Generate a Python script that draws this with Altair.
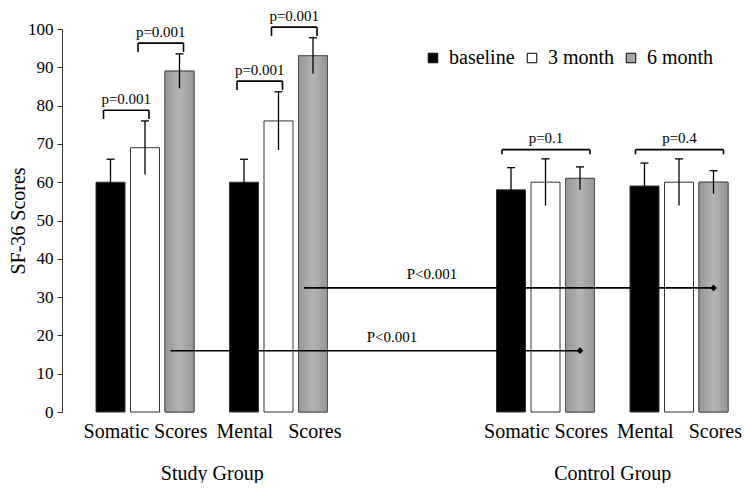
import altair as alt
import pandas as pd

# ---------------- data ----------------
groups = ["Study Group", "Control Group"]
measures = ["Somatic Scores", "Mental Scores"]
times = ["baseline", "3 month", "6 month"]

study_somatic = [60, 69, 89]
study_somatic_err = [6, 7, 4.5]
study_mental = [60, 76, 93]
study_mental_err = [6, 7.6, 4.7]
control_somatic = [58, 60, 61]
control_somatic_err = [5.8, 6.1, 3]
control_mental = [59, 60, 60]
control_mental_err = [6, 6.1, 3]

# within-group comparisons: (group, measure, from time, to time, label)
within_tests = [
    ("Study Group", "Somatic Scores", 0, 1, "p=0.001"),
    ("Study Group", "Somatic Scores", 1, 2, "p=0.001"),
    ("Study Group", "Mental Scores", 0, 1, "p=0.001"),
    ("Study Group", "Mental Scores", 1, 2, "p=0.001"),
    ("Control Group", "Somatic Scores", 0, 2, "p=0.1"),
    ("Control Group", "Mental Scores", 0, 2, "p=0.4"),
]
# between-group comparisons at 6 months: (measure, line level, label)
between_tests = [
    ("Somatic Scores", 16, "P<0.001"),
    ("Mental Scores", 32.4, "P<0.001"),
]

series = [
    ("Study Group", "Somatic Scores", study_somatic, study_somatic_err),
    ("Study Group", "Mental Scores", study_mental, study_mental_err),
    ("Control Group", "Somatic Scores", control_somatic, control_somatic_err),
    ("Control Group", "Mental Scores", control_mental, control_mental_err),
]

FONT = "Liberation Serif"

# ---------------- layout helpers ----------------
W, H = 680, 383
PX = 133.5                      # pixels per slot
slot_of = {("Study Group", "Somatic Scores"): 0, ("Study Group", "Mental Scores"): 1,
           ("Control Group", "Somatic Scores"): 3, ("Control Group", "Mental Scores"): 4}
BAR_STEP = 34.5 / PX
X_LO = -83 / PX
X_HI = X_LO + W / PX


def px(p):
    return p / PX


def pos(g, m, t):
    return slot_of[(g, m)] + (t - 1) * BAR_STEP


bar_rows, seg_rows, text_rows, dia_rows = [], [], [], []
for g, m, vals, errs in series:
    for t, (v, e) in enumerate(zip(vals, errs)):
        x = pos(g, m, t)
        bar_rows.append({"x": x, "y": v, "time": times[t]})
        seg_rows.append({"x": x, "x2": x, "y": v - e, "y2": v + e, "w": 1.3})
        seg_rows.append({"x": x - px(4), "x2": x + px(4), "y": v + e, "y2": v + e, "w": 1.3})

lookup = {(g, m): (vals, errs) for g, m, vals, errs in series}
for g, m, ta, tb, lab in within_tests:
    vals, errs = lookup[(g, m)]
    top = max(vals[k] + errs[k] for k in range(ta, tb + 1))
    adjacent = (tb - ta) == 1
    ytop = top + (2.8 if adjacent else 2.4)
    leg = 2.3 if adjacent else 1.2
    xl = pos(g, m, ta) - px(7 if adjacent else 9)
    xr = pos(g, m, tb) + px(4 if adjacent else 10)
    seg_rows.append({"x": xl, "x2": xr, "y": ytop, "y2": ytop, "w": 1.6})
    seg_rows.append({"x": xl, "x2": xl, "y": ytop - leg, "y2": ytop, "w": 1.6})
    seg_rows.append({"x": xr, "x2": xr, "y": ytop - leg, "y2": ytop, "w": 1.6})
    text_rows.append({"x": (xl + xr) / 2, "y": ytop + 3.0, "label": lab})

for i, (m, level, lab) in enumerate(between_tests):
    xs = pos("Study Group", m, 2) - px(9)
    xe = pos("Control Group", m, 2)
    seg_rows.append({"x": xs, "x2": xe, "y": level, "y2": level, "w": 1.6})
    dia_rows.append({"x": xe, "y": level})
    text_rows.append({"x": 2 + (-1 if i == 0 else 1) * px(20), "y": level + 3.6, "label": lab})

bars_df = pd.DataFrame(bar_rows)
seg_df = pd.DataFrame(seg_rows)
text_df = pd.DataFrame(text_rows)
dia_df = pd.DataFrame(dia_rows)
grp_df = pd.DataFrame({"x": [0.5, 3.5], "g": groups})


def xscale():
    return alt.Scale(domain=[X_LO, X_HI], nice=False, zero=False, padding=0)


yscale = alt.Scale(domain=[0, 100], nice=False, padding=0)
YT = "SF-36 Scores"

mental_label = measures[1].replace(" ", "\u00a0\u00a0 ")
measure_expr = f"datum.value % 3 == 0 ? '{measures[0]}' : '{mental_label}'"
x_axis = alt.Axis(values=[0, 1, 3, 4], labelExpr=measure_expr, domain=False, ticks=False,
                  labelPadding=9, labelFontSize=20, labelColor="black", title=None,
                  grid=False, labelFlush=False, labelOverlap=False, labelFont=FONT)
y_axis = alt.Axis(values=list(range(0, 101, 10)), tickCount=11, grid=False, title=YT,
                  titleFontSize=20, titleFontWeight="normal", titleColor="black",
                  labelFontSize=17, labelColor="black", tickSize=5, tickColor="#333",
                  domainColor="#333", titleX=-44, titleBaseline="middle", labelPadding=4,
                  labelOverlap=False, labelFont=FONT, titleFont=FONT)


def X():
    return alt.X("x:Q", scale=xscale(), axis=x_axis)


def Y():
    return alt.Y("y:Q", scale=yscale, axis=y_axis)


bars = alt.Chart(bars_df).mark_bar(size=29, stroke="#333", strokeWidth=1).encode(
    x=X(), y=Y(),
    color=alt.Color("time:N", scale=alt.Scale(domain=times, range=["#000000", "#ffffff", "#a8a8a8"]),
                    legend=alt.Legend(orient="none", legendX=361, legendY=19, direction="horizontal",
                                      columns=3, title=None, symbolType="square", symbolSize=90,
                                      symbolStrokeColor="#000", symbolStrokeWidth=1,
                                      labelFontSize=20, labelOffset=6, columnPadding=6,
                                      gridAlign="all", labelColor="black", labelFont=FONT)),
)

grad_bars = alt.Chart(bars_df[bars_df["time"] == times[2]]).mark_bar(
    size=29, stroke="#555", strokeWidth=1,
    color=alt.Gradient(gradient="linear", x1=0, x2=1, y1=0, y2=0,
                       stops=[alt.GradientStop(color="#969696", offset=0),
                              alt.GradientStop(color="#b4b4b4", offset=0.5),
                              alt.GradientStop(color="#969696", offset=1)])
).encode(x=X(), y=Y())

segs = alt.Chart(seg_df).mark_rule(color="black").encode(
    x=X(), x2="x2", y=Y(), y2="y2",
    strokeWidth=alt.StrokeWidth("w:Q", scale=None),
)

texts = alt.Chart(text_df).mark_text(fontSize=15, color="black", baseline="middle",
                                     font=FONT).encode(x=X(), y=Y(), text="label:N")

diamonds = alt.Chart(dia_df).mark_point(shape="diamond", filled=True, size=45, color="black",
                                        opacity=1).encode(x=X(), y=Y())

main = alt.layer(bars, grad_bars, segs, texts, diamonds)

group_expr = f"datum.value < 2 ? '{groups[0]}' : '{groups[1]}'"
group_axis = alt.Axis(orient="bottom", values=[0.5, 3.5], labelExpr=group_expr,
                      domain=False, ticks=False, labelPadding=51, labelFontSize=20,
                      labelColor="black", title=None, grid=False, labelFont=FONT)
group_layer = alt.Chart(grp_df).mark_point(opacity=0).encode(
    x=alt.X("x:Q", scale=xscale(), axis=group_axis),
    y=alt.value(0),
)

chart = alt.layer(main, group_layer).resolve_scale(x="independent").properties(
    width=W, height=H, padding=0
).configure(font=FONT).configure_view(stroke=None)

chart.save("out.html", embed_options={"renderer": "svg", "actions": False})
